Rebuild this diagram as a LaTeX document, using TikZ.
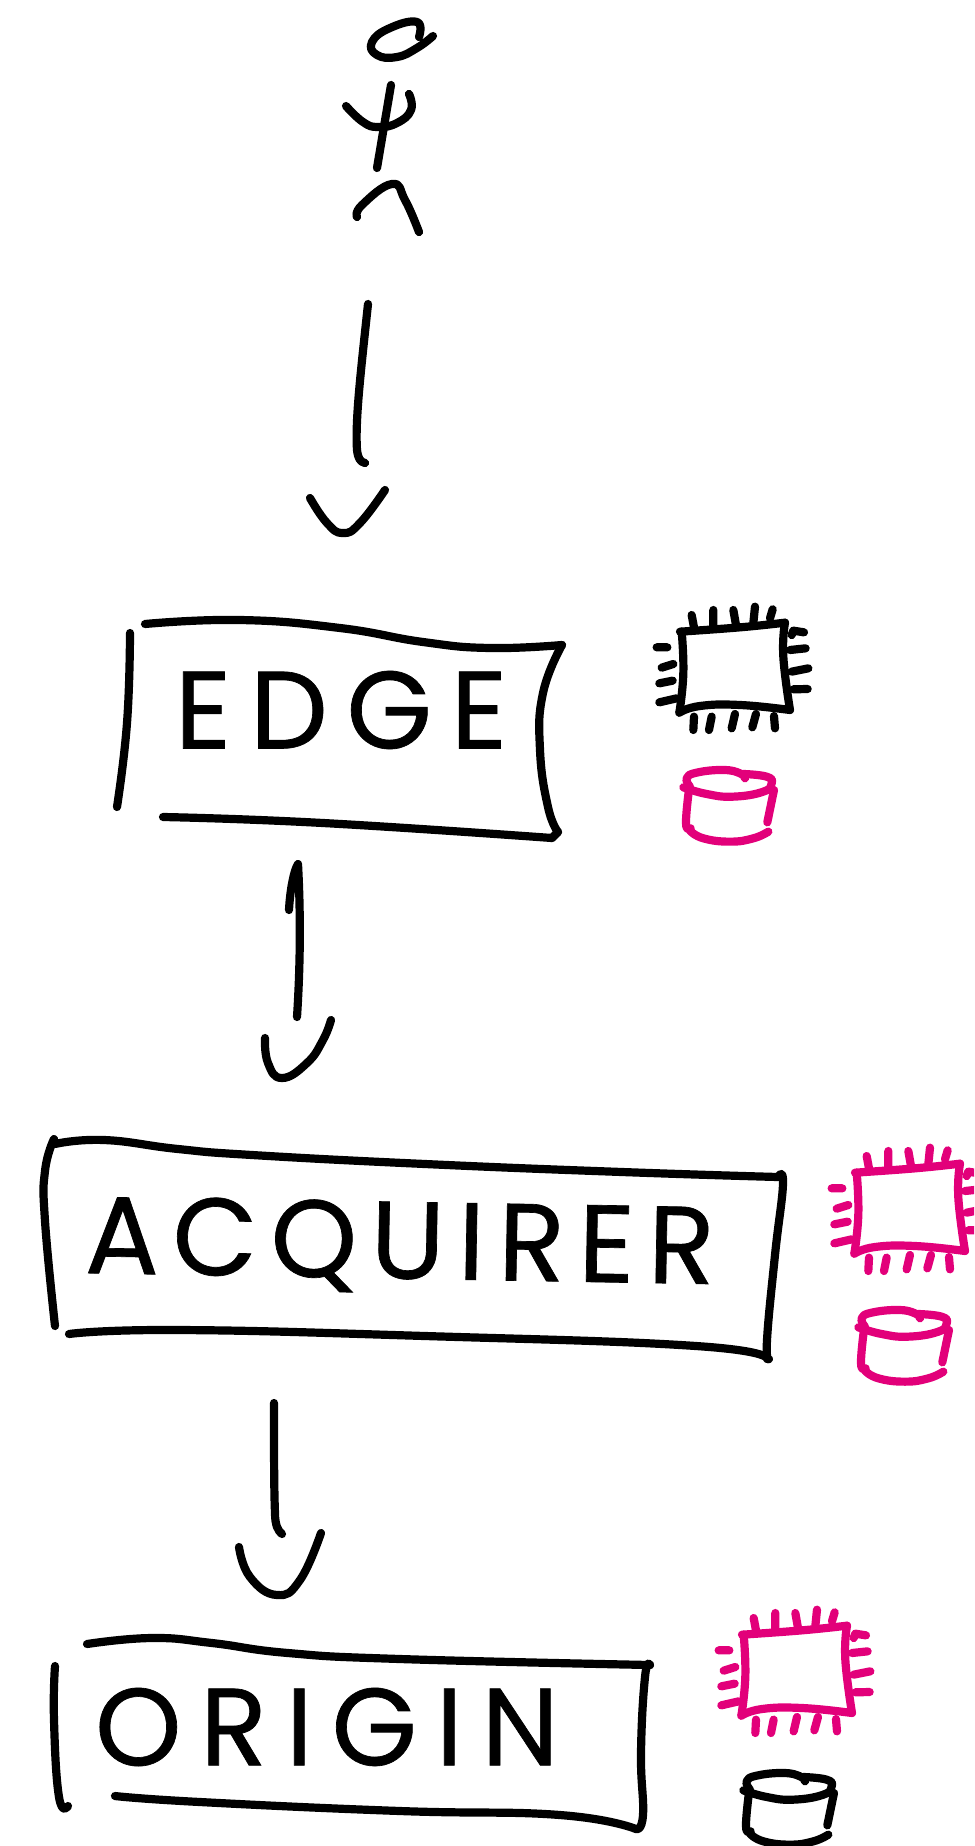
\documentclass[tikz,border=0pt]{standalone}
\usepackage{fontspec}
\newfontfamily\handfont[FakeBold=0.6]{Poppins}
\definecolor{inkpink}{HTML}{E2007A}
\tikzset{
  ink/.style={line width=8.2pt,line cap=round,line join=round,draw=black},
  wobble/.style={smooth,tension=0.8},
  label/.style={inner sep=0pt,font=\handfont\fontsize{110}{110}\selectfont,text=black}
}
\newcommand{\hstroke}[2][black]{\draw[ink,draw=#1] plot[wobble] coordinates {#2};}
\newcommand{\chipicon}[3]{%
\begin{scope}[shift={(#1pt,-#2pt)},x=0.3333pt,y=-0.3333pt,ink/.append style={draw=#3}]
  \draw[ink] plot[wobble] coordinates {(120,125)(300,112)(435,98)};
  \draw[ink] plot[wobble] coordinates {(435,98)(430,200)(450,360)};
  \draw[ink] plot[wobble] coordinates {(450,360)(300,345)(180,348)(118,368)};
  \draw[ink] plot[wobble] coordinates {(118,368)(130,250)(125,125)};
  \draw[ink] (155,75)--(162,112) (220,60)--(220,108) (280,60)--(288,105) (345,50)--(340,100) (398,58)--(390,85);
  \draw[ink] (50,172)--(82,172) (65,233)--(100,222) (58,280)--(98,272) (58,337)--(110,325);
  \draw[ink] (455,135)--(460,122)--(492,127) (450,180)--(497,175) (455,245)--(505,235) (460,298)--(503,297);
  \draw[ink] (162,380)--(160,420) (215,380)--(207,420) (285,372)--(275,415) (348,372)--(337,412) (402,378)--(405,415);
\end{scope}}
\newcommand{\drumicon}[3]{%
\begin{scope}[shift={(#1pt,-#2pt)},x=0.3333pt,y=-0.3333pt,ink/.append style={draw=#3}]
  \draw[ink] plot[wobble] coordinates {(150,590)(140,565)(170,548)(250,540)(300,550)(315,565)};
  \draw[ink] plot[wobble] coordinates {(310,552)(380,560)(395,580)(370,605)(280,620)(200,612)(130,592)};
  \draw[ink] plot[wobble] coordinates {(148,590)(138,700)(152,715)};
  \draw[ink] (402,600)--(382,697);
  \draw[ink] plot[wobble] coordinates {(150,722)(190,745)(270,755)(340,745)(385,725)};
\end{scope}}
\begin{document}
\begin{tikzpicture}[x=1pt,y=-1pt]
\useasboundingbox (0,0) rectangle (974,1846);
\clip (0,0) rectangle (974,1846);
% stick figure
\hstroke{(419,37)(417,22)(390,28)(372,42)(377,55)(397,57)(417,48)(433,36)}
\draw[ink] (391,85)--(377,168);
\hstroke{(346,106)(363,122)(378,127)(397,123)(411,110)(409,94)}
\hstroke{(357,217)(362,205)(392,184)(405,200)(419,232)}
% labels
\node[label] (edgebox) at (341,710) {\addfontfeature{LetterSpace=17}EDGE};
\node[label,rotate=-1] (acquirerbox) at (400,1247) {\addfontfeature{LetterSpace=12}ACQUIRER};
\node[label] (originbox) at (327,1727) {\addfontfeature{LetterSpace=17}ORIGIN};
% named connector ends
\coordinate (userfoot) at (368,304);
\coordinate (edgein) at (365,463);
\coordinate (acqin) at (297,1017);
\coordinate (acqout) at (274,1403);
\coordinate (originin) at (282,1534);
% edge box
\hstroke{(130,633)(127,723)(117,807)}
\hstroke{(145,624)(240,620)(340,628)(423,642)(490,648)(562,645)}
\hstroke{(562,645)(543,693)(540,750)(548,807)(558,832)}
\draw[ink] (558,832)--(552,838);
\hstroke{(552,838)(323,823)(163,817)}
% acquirer box
\hstroke{(55,1326)(45,1221)(45,1171)(54,1139)}
\hstroke{(55,1144)(104,1140)(178,1149)(252,1155)(425,1164)(622,1172)(778,1177)}
\hstroke{(778,1177)(783,1184)(775,1255)(767,1340)(769,1359)}
\hstroke{(767,1359)(696,1346)(425,1336)(178,1330)(69,1334)}
% origin box
\hstroke{(55,1666)(54,1720)(59,1797)(68,1806)}
\hstroke{(87,1644)(152,1638)(212,1643)(288,1653)(400,1659)(650,1665)}
\hstroke{(650,1665)(645,1677)(641,1753)(643,1815)(636,1829)}
\hstroke{(636,1829)(560,1815)(400,1811)(200,1802)(115,1796)}
% connectors
\draw[ink] (userfoot) .. controls (361,370) and (355,420) .. (357,450) .. controls (358,458) and (360,462) .. (edgein);
\hstroke{(310,498)(327,523)(343,533)(360,523)(385,490)}
\draw[ink] (289,910) .. controls (290,890) and (294,870) .. (298,864) .. controls (301,920) and (300,970) .. (acqin);
\hstroke{(265,1038)(268,1063)(282,1078)(307,1063)(323,1040)(331,1020)}
\draw[ink] (acqout) .. controls (274,1450) and (274,1490) .. (275,1513) .. controls (275,1525) and (278,1531) .. (originin);
\hstroke{(239,1547)(250,1577)(277,1595)(300,1580)(321,1533)}
% icons
\chipicon{640}{590}{black}
\drumicon{640}{590}{inkpink}
\chipicon{815}{1131}{inkpink}
\drumicon{815}{1130}{inkpink}
\chipicon{702}{1593}{inkpink}
\drumicon{700}{1593}{black}
\end{tikzpicture}
\end{document}
